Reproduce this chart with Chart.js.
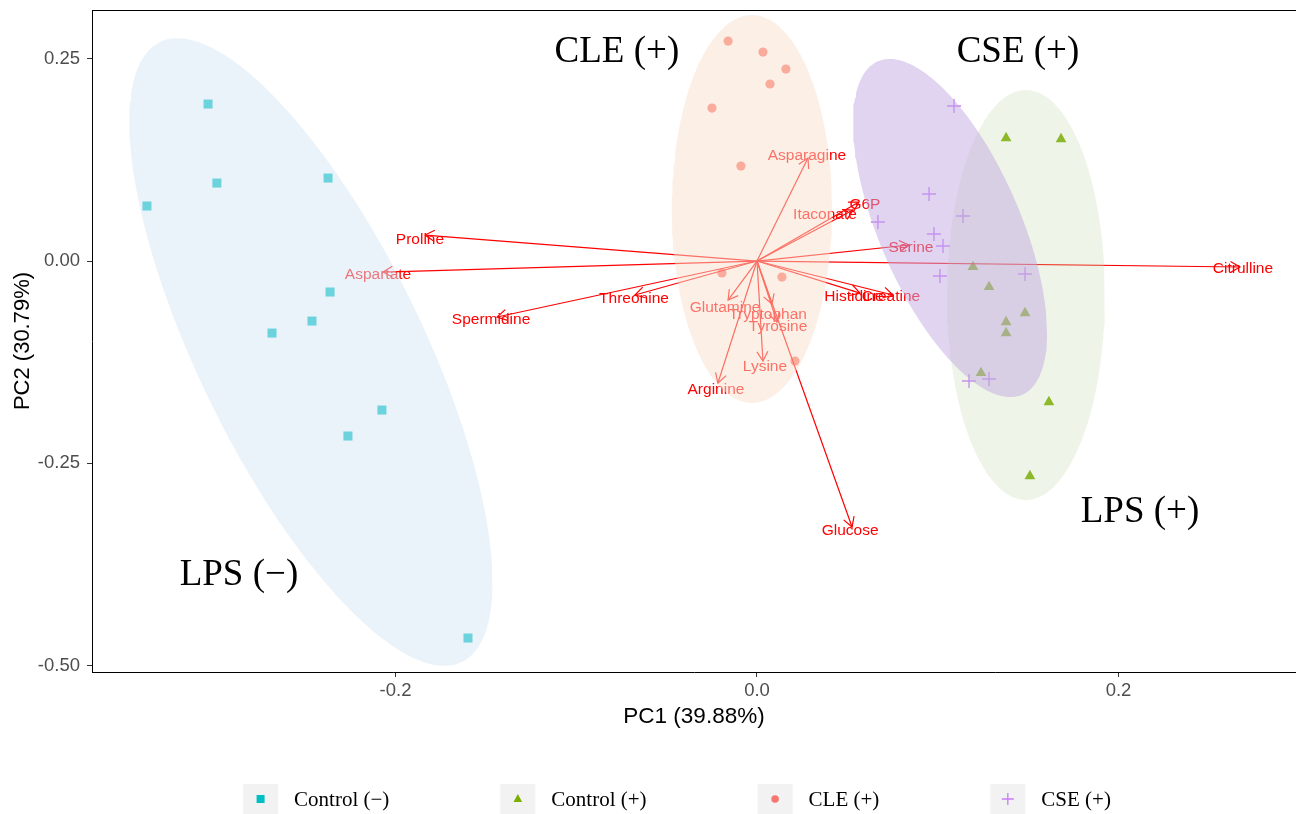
<!DOCTYPE html>
<html>
<head>
<meta charset="utf-8">
<title>PCA biplot</title>
<script src="https://cdn.jsdelivr.net/npm/chart.js@4.4.1/dist/chart.umd.min.js"></script>
<style>
  html, body { margin: 0; padding: 0; background: #ffffff; }
  canvas { display: block; }
</style>
</head>
<body>
<canvas id="pca" width="1296" height="814"></canvas>
<script>
// ---- Individual scores (PC1, PC2) per group ----
const groupNames = ['Control (\u2212)', 'Control (+)', 'CLE (+)', 'CSE (+)'];

const ctrlMinusX = [-0.3037, -0.2988, -0.3375, -0.2373, -0.2362, -0.2683, -0.2462, -0.2075, -0.2263, -0.1599];
const ctrlMinusY = [ 0.1941,  0.0964,  0.0680,  0.1026, -0.0383, -0.0890, -0.0742, -0.1842, -0.2163, -0.4660];

const ctrlPlusX = [0.1378, 0.1682, 0.1195, 0.1284, 0.1483, 0.1378, 0.1378, 0.1239, 0.1615, 0.1510];
const ctrlPlusY = [0.1520, 0.1508, -0.0074, -0.0321, -0.0643, -0.0754, -0.0890, -0.1384, -0.1743, -0.2658];

const cleX = [-0.0160, 0.0033, 0.0160, 0.0072, -0.0249, -0.0089, -0.0194, 0.0138, 0.0210];
const cleY = [ 0.2719, 0.2583, 0.2373, 0.2188,  0.1891,  0.1174, -0.0148, -0.0198, -0.1236];

const cseX = [0.1090, 0.0952, 0.0669, 0.1140, 0.0979, 0.1029, 0.1012, 0.1483, 0.1173, 0.1284];
const cseY = [0.1916, 0.0828, 0.0482, 0.0556, 0.0334, 0.0185, -0.0185, -0.0161, -0.1483, -0.1459];

// ---- Variable loadings (arrow tips) ----
const loadingNames = ['Proline', 'Aspartate', 'Spermidine', 'Threonine', 'Citrulline', 'Asparagine',
  'G6P', 'Itaconate', 'Serine', 'Histidine', 'Creatine', 'Glutamine', 'Tryptophan', 'Tyrosine',
  'Lysine', 'Arginine', 'Glucose'];
const loadingX = [-0.1837, -0.2069, -0.1438, -0.0675, 0.2672, 0.0282, 0.0564, 0.0531, 0.0841,
  0.0570, 0.0752, -0.0160, 0.0083, 0.0111, 0.0033, -0.0216, 0.0526];
const loadingY = [0.0321, -0.0136, -0.0692, -0.0420, -0.0074, 0.1273, 0.0729, 0.0630, 0.0198,
  -0.0396, -0.0420, -0.0482, -0.0532, -0.0754, -0.1236, -0.1508, -0.3288];

// ---- Group confidence ellipses: centre and two conjugate semi-axes (data units) ----
const ellipseNames = ['Control (\u2212)', 'CLE (+)', 'Control (+)', 'CSE (+)'];
const ellipseCx = [-0.2468, -0.0028, 0.1488, 0.1068];
const ellipseCy = [-0.1125,  0.0643, -0.0420, 0.0408];
const ellipseAx = [ 0.0835,  0.0000, 0.0000, 0.0399];
const ellipseAy = [-0.3832,  0.2398, 0.2534, -0.2061];
const ellipseBx = [-0.0559,  0.0443, 0.0437, -0.0359];
const ellipseBy = [-0.0606,  0.0000, 0.0000, -0.0347];

// ---- Group annotations ----
const groupLabels = ['LPS (\u2212)', 'CLE (+)', 'CSE (+)', 'LPS (+)'];
const groupLabelX = [-0.2866, -0.0775, 0.1444, 0.2119];
const groupLabelY = [-0.3881, 0.2583, 0.2583, -0.3103];

// ---- Axes ----
const xTicks = [-0.2, 0.0, 0.2];
const yTicks = [0.25, 0.00, -0.25, -0.50];
const xRange = [-0.3679, 0.2982];
const yRange = [-0.5080, 0.3103];
const xTitle = 'PC1 (39.88%)';
const yTitle = 'PC2 (30.79%)';

// ---- Styles ----
const groupColors = ['#00BFC4', '#7CAE00', '#F8766D', '#C77CFF'];
const groupShapes = ['rect', 'triangle', 'circle', 'cross'];
const ellipseFills = ['rgba(215,231,245,0.5)', 'rgba(249,223,203,0.5)',
                      'rgba(187,215,163,0.25)', 'rgba(193,169,225,0.5)'];
const ellipseOrder = [4, 3, 2, 1];
// small pixel nudges so overlapping variable names stay readable
const labelNudge = [[-5, 5], [-5, 3], [-6, 3], [-1, 4], [3, 2], [-1, -2], [6, 3], [-28, 5], [2, 3],
  [-6, 4], [-2, 2], [-3, 8], [-4, 11], [1, 5], [2, 6], [-2, 7], [-2, 4]];

const SANS = '"Liberation Sans", Arial, Helvetica, sans-serif';
const SERIF = '"Liberation Serif", "Times New Roman", Times, serif';

function pts(xs, ys) { return xs.map((x, i) => ({ x: x, y: ys[i] })); }

function ellipsePath(i) {
  const n = 180, out = [];
  for (let k = 0; k <= n; k++) {
    const t = 2 * Math.PI * k / n;
    out.push({
      x: ellipseCx[i] + ellipseAx[i] * Math.cos(t) + ellipseBx[i] * Math.sin(t),
      y: ellipseCy[i] + ellipseAy[i] * Math.cos(t) + ellipseBy[i] * Math.sin(t)
    });
  }
  return out;
}

const datasets = [];

// scores
const scoreSets = [[ctrlMinusX, ctrlMinusY], [ctrlPlusX, ctrlPlusY], [cleX, cleY], [cseX, cseY]];
const scoreRadius = [6.4, 6.2, 4.6, 7];
scoreSets.forEach((s, g) => {
  const cross = groupShapes[g] === 'cross';
  datasets.push({
    type: 'scatter',
    label: groupNames[g],
    data: pts(s[0], s[1]),
    pointStyle: groupShapes[g],
    pointRadius: scoreRadius[g],
    pointHoverRadius: scoreRadius[g],
    backgroundColor: groupColors[g],
    borderColor: groupColors[g],
    borderWidth: cross ? 1.4 : 0,
    order: 40
  });
});

// loading arrows
loadingNames.forEach((name, i) => {
  datasets.push({
    type: 'line',
    label: name,
    data: [{ x: 0, y: 0 }, { x: loadingX[i], y: loadingY[i] }],
    borderColor: '#FF0000',
    borderWidth: 1.2,
    pointRadius: 0,
    fill: false,
    tension: 0,
    loadingIndex: i,
    order: 30
  });
});

// ellipses (drawn over scores and loadings)
ellipseNames.forEach((name, i) => {
  datasets.push({
    type: 'line',
    label: 'ellipse ' + name,
    data: ellipsePath(i),
    borderColor: 'rgba(0,0,0,0)',
    borderWidth: 0,
    pointRadius: 0,
    backgroundColor: ellipseFills[i],
    fill: 'shape',
    tension: 0,
    order: ellipseOrder[i]
  });
});

const whiteBackground = {
  id: 'whiteBackground',
  beforeDraw(chart) {
    const ctx = chart.ctx;
    ctx.save();
    ctx.fillStyle = '#ffffff';
    ctx.fillRect(0, 0, chart.width, chart.height);
    ctx.restore();
  }
};

const loadingArrows = {
  id: 'loadingArrows',
  afterDatasetDraw(chart, args) {
    const ds = chart.data.datasets[args.index];
    if (ds.loadingIndex === undefined) return;
    const i = ds.loadingIndex;
    const p0 = args.meta.data[0], p1 = args.meta.data[1];
    const ang = Math.atan2(p1.y - p0.y, p1.x - p0.x);
    const L = 11, spread = Math.PI / 6;
    const ctx = chart.ctx;
    ctx.save();
    ctx.strokeStyle = '#FF0000';
    ctx.lineWidth = 1.2;
    ctx.beginPath();
    ctx.moveTo(p1.x - L * Math.cos(ang - spread), p1.y - L * Math.sin(ang - spread));
    ctx.lineTo(p1.x, p1.y);
    ctx.lineTo(p1.x - L * Math.cos(ang + spread), p1.y - L * Math.sin(ang + spread));
    ctx.stroke();
    ctx.font = '15.5px ' + SANS;
    ctx.fillStyle = '#FF0000';
    ctx.textAlign = 'center';
    ctx.textBaseline = 'middle';
    ctx.fillText(loadingNames[i], p1.x + labelNudge[i][0], p1.y + labelNudge[i][1]);
    ctx.restore();
  }
};

function drawSymbol(ctx, shape, color, x, y) {
  ctx.save();
  ctx.fillStyle = color;
  ctx.strokeStyle = color;
  ctx.beginPath();
  if (shape === 'rect') {
    ctx.fillRect(x - 4, y - 4, 8, 8);
  } else if (shape === 'triangle') {
    ctx.moveTo(x, y - 5);
    ctx.lineTo(x + 4.3, y + 3);
    ctx.lineTo(x - 4.3, y + 3);
    ctx.closePath();
    ctx.fill();
  } else if (shape === 'circle') {
    ctx.arc(x, y, 3.8, 0, Math.PI * 2);
    ctx.fill();
  } else {
    ctx.lineWidth = 1.3;
    ctx.moveTo(x - 6, y); ctx.lineTo(x + 6, y);
    ctx.moveTo(x, y - 6); ctx.lineTo(x, y + 6);
    ctx.stroke();
  }
  ctx.restore();
}

const annotations = {
  id: 'annotations',
  afterDraw(chart) {
    const ctx = chart.ctx;
    const area = chart.chartArea;
    const xs = chart.scales.x, ys = chart.scales.y;
    ctx.save();
    // panel top edge
    ctx.strokeStyle = '#000000';
    ctx.lineWidth = 1;
    ctx.beginPath();
    ctx.moveTo(area.left, Math.round(area.top) + 0.5);
    ctx.lineTo(area.right, Math.round(area.top) + 0.5);
    ctx.stroke();

    // group annotations
    ctx.fillStyle = '#000000';
    ctx.font = '37px ' + SERIF;
    ctx.textAlign = 'center';
    ctx.textBaseline = 'middle';
    groupLabels.forEach((t, i) => {
      ctx.fillText(t, xs.getPixelForValue(groupLabelX[i]), ys.getPixelForValue(groupLabelY[i]));
    });

    // legend
    ctx.font = '21px ' + SERIF;
    ctx.textAlign = 'left';
    const keyW = 35, keyH = 30, textGap = 16, itemGap = 111;
    const widths = groupNames.map(t => ctx.measureText(t).width);
    const total = widths.reduce((a, w) => a + keyW + textGap + w, 0) + itemGap * (groupNames.length - 1);
    let x = 677 - total / 2;
    const cy = 799;
    groupNames.forEach((t, g) => {
      ctx.fillStyle = '#F2F2F2';
      ctx.fillRect(x, cy - keyH / 2, keyW, keyH);
      drawSymbol(ctx, groupShapes[g], groupColors[g], x + keyW / 2, cy);
      ctx.fillStyle = '#000000';
      ctx.fillText(t, x + keyW + textGap, cy + 1);
      x += keyW + textGap + widths[g] + itemGap;
    });
    ctx.restore();
  }
};

new Chart(document.getElementById('pca'), {
  type: 'scatter',
  data: { datasets: datasets },
  options: {
    responsive: false,
    animation: false,
    devicePixelRatio: 1,
    layout: { autoPadding: false, padding: { top: 10, right: 0, bottom: 80, left: 0 } },
    plugins: {
      legend: { display: false },
      tooltip: { enabled: false }
    },
    scales: {
      x: {
        type: 'linear',
        min: xRange[0],
        max: xRange[1],
        afterBuildTicks(scale) { scale.ticks = xTicks.map(v => ({ value: v })); },
        afterFit(scale) {
          scale.height = 62;
          scale.paddingLeft = 0;
          scale.paddingRight = 0;
        },
        ticks: {
          callback: v => v.toFixed(1),
          color: '#4D4D4D',
          font: { family: SANS, size: 18.5 },
          padding: 3,
          maxRotation: 0
        },
        grid: { drawOnChartArea: false, drawTicks: true, tickLength: 5, color: '#333333' },
        border: { display: true, color: '#000000', width: 1 },
        title: {
          display: true,
          text: xTitle,
          color: '#000000',
          font: { family: SANS, size: 22.5 },
          padding: { top: 4, bottom: 4 }
        }
      },
      y: {
        type: 'linear',
        min: yRange[0],
        max: yRange[1],
        afterBuildTicks(scale) { scale.ticks = yTicks.map(v => ({ value: v })); },
        afterFit(scale) {
          scale.width = 92;
          scale.paddingTop = 0;
          scale.paddingBottom = 0;
        },
        ticks: {
          callback: v => v.toFixed(2),
          color: '#4D4D4D',
          font: { family: SANS, size: 18.5 },
          padding: 7
        },
        grid: { drawOnChartArea: false, drawTicks: true, tickLength: 5, color: '#333333' },
        border: { display: true, color: '#000000', width: 1 },
        title: {
          display: true,
          text: yTitle,
          color: '#000000',
          font: { family: SANS, size: 22 },
          padding: { top: 10, bottom: 4 }
        }
      }
    }
  },
  plugins: [whiteBackground, loadingArrows, annotations]
});
</script>
</body>
</html>
